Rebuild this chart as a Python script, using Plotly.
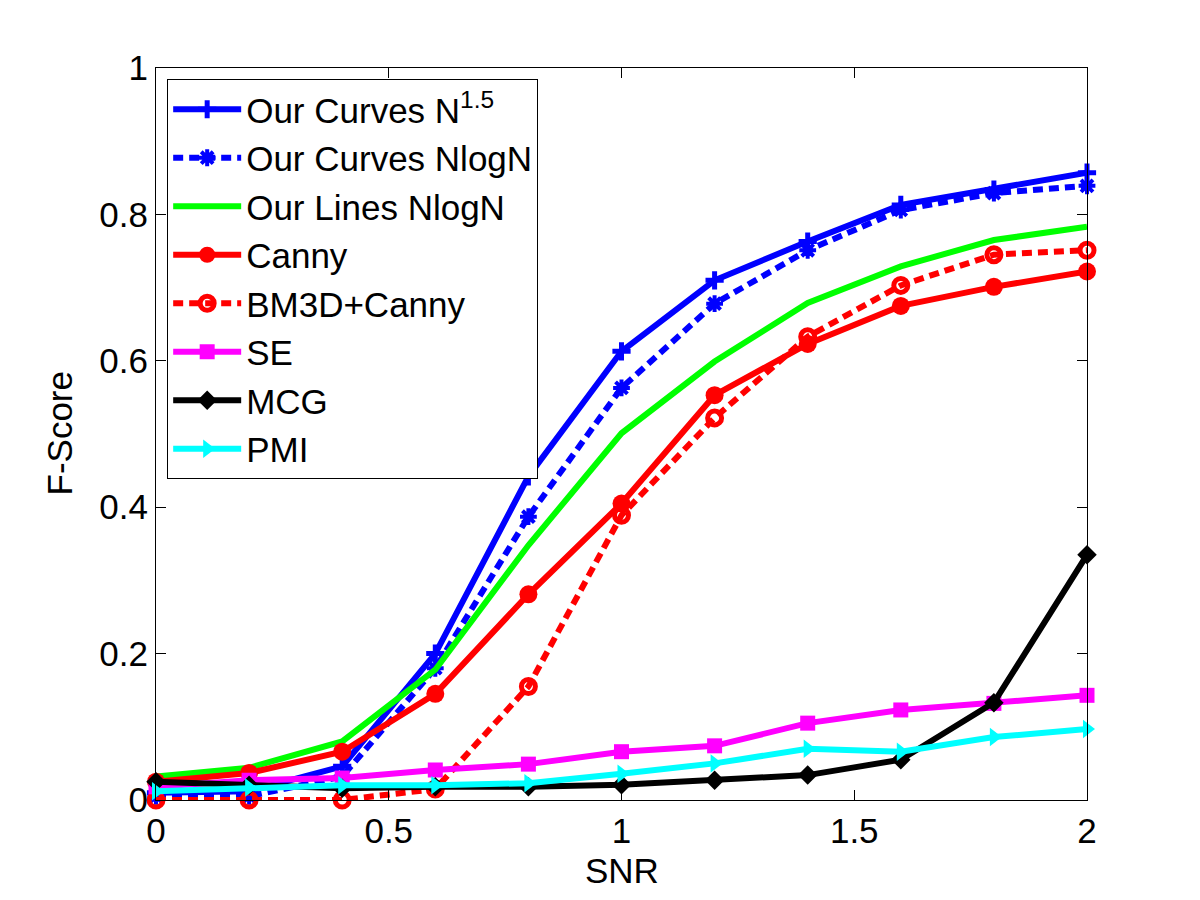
import plotly.graph_objects as go

# SNR values on the x axis
snr = [0.0, 0.2, 0.4, 0.6, 0.8, 1.0, 1.2, 1.4, 1.6, 1.8, 2.0]

# F-Score per method
curves_n15 = [0.010, 0.012, 0.046, 0.200, 0.442, 0.613, 0.710, 0.763, 0.813, 0.834, 0.857]
curves_nlogn = [0.005, 0.005, 0.032, 0.180, 0.387, 0.563, 0.678, 0.751, 0.806, 0.829, 0.839]
lines_nlogn = [0.032, 0.044, 0.080, 0.178, 0.348, 0.501, 0.599, 0.679, 0.729, 0.765, 0.783]
canny = [0.025, 0.037, 0.066, 0.145, 0.281, 0.405, 0.553, 0.623, 0.675, 0.701, 0.722]
bm3d_canny = [0.000, 0.000, 0.000, 0.015, 0.155, 0.389, 0.522, 0.633, 0.703, 0.745, 0.751]
se = [0.018, 0.027, 0.030, 0.041, 0.049, 0.066, 0.074, 0.105, 0.123, 0.132, 0.143]
mcg = [0.025, 0.020, 0.016, 0.018, 0.018, 0.021, 0.027, 0.034, 0.055, 0.133, 0.335]
pmi = [0.012, 0.017, 0.020, 0.020, 0.023, 0.036, 0.050, 0.070, 0.066, 0.086, 0.097]

FONT = "Liberation Sans, Arial, sans-serif"
DASH = "10px,6px"

# name, values, color, dash, marker symbol, marker size, marker line width
series = [
    ("Our Curves N<sup>1.5</sup>", curves_n15, "#0000ff", "solid", "cross-thin-open", 13, 5),
    ("Our Curves NlogN", curves_nlogn, "#0000ff", DASH, "asterisk-open", 14, 4),
    ("Our Lines NlogN", lines_nlogn, "#00ff00", "solid", None, 0, 0),
    ("Canny", canny, "#ff0000", "solid", "circle", 18, 0),
    ("BM3D+Canny", bm3d_canny, "#ff0000", DASH, "circle-open", 14, 5),
    ("SE", se, "#ff00ff", "solid", "square", 15, 0),
    ("MCG", mcg, "#000000", "solid", "diamond", 15, 0),
    ("PMI", pmi, "#00ffff", "solid", "triangle-right", 16, 0),
]

fig = go.Figure()
for name, vals, color, dash, symbol, size, mlw in series:
    if symbol is None:
        mode = "lines"
        marker = None
    else:
        mode = "lines+markers"
        marker = dict(symbol=symbol, size=size, color=color,
                      line=dict(color=color, width=mlw))
    fig.add_trace(go.Scatter(x=snr, y=vals, name=name, mode=mode,
                             line=dict(color=color, width=6, dash=dash),
                             marker=marker, cliponaxis=False))

axis_common = dict(showline=True, linecolor="black", linewidth=1, mirror="ticks",
                   ticks="inside", ticklen=10, tickcolor="black", showgrid=False,
                   zeroline=False, tickfont=dict(size=35, color="black", family=FONT))

fig.update_layout(
    width=1200, height=900,
    plot_bgcolor="white", paper_bgcolor="white",
    margin=dict(l=148, r=121, t=60, b=108),
    font=dict(family=FONT, size=35, color="black"),
    xaxis=dict(range=[0, 2], tickvals=[0, 0.5, 1, 1.5, 2], **axis_common),
    yaxis=dict(range=[0, 1], tickvals=[0, 0.2, 0.4, 0.6, 0.8, 1], **axis_common),
    legend=dict(x=0.012, y=0.985, xanchor="left", yanchor="top",
                bgcolor="white", bordercolor="black", borderwidth=1,
                font=dict(size=35, family=FONT), itemwidth=68, tracegroupgap=0),
    showlegend=True,
)

# axis titles placed as annotations so they sit as close as in the reference
fig.add_annotation(text="SNR", x=0.5, y=0, xref="paper", yref="paper",
                   xanchor="center", yanchor="top", yshift=-49, showarrow=False,
                   font=dict(size=35, family=FONT, color="black"))
fig.add_annotation(text="F-Score", x=0, y=0.5, xref="paper", yref="paper",
                   xanchor="right", yanchor="middle", xshift=-76, textangle=-90,
                   showarrow=False, font=dict(size=35, family=FONT, color="black"))

fig.write_html("out.html")
